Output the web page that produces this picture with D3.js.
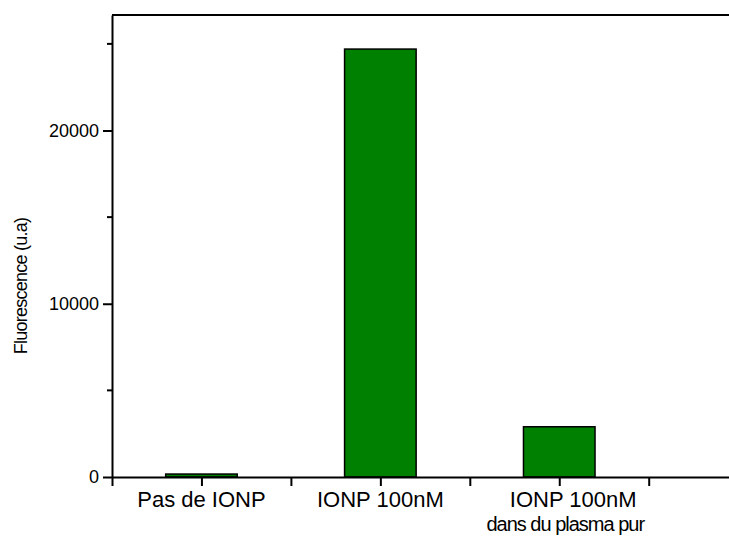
<!DOCTYPE html>
<html>
<head>
<meta charset="utf-8">
<script src="https://cdn.jsdelivr.net/npm/d3@7"></script>
<style>
  body { margin: 0; background: #fff; }
  text { font-family: "Liberation Sans", Arial, sans-serif; fill: #000; }
</style>
</head>
<body>
<div id="chart-area"></div>
<script>
const categories = [
  ["Pas de IONP"],
  ["IONP 100nM"],
  ["IONP 100nM", "dans du plasma pur"]
]
const values = [170, 24700, 2900]
const majorTicks = [0, 10000, 20000]
const minorTicks = [5000, 15000, 25000]

const W = 729, H = 539
const MARGIN = { LEFT: 112, TOP: 15, BOTTOM: 62 }
const HEIGHT = H - MARGIN.TOP - MARGIN.BOTTOM

const svg = d3.select("#chart-area").append("svg")
  .attr("width", W)
  .attr("height", H)

const g = svg.append("g")
  .attr("transform", `translate(${MARGIN.LEFT}, ${MARGIN.TOP})`)

// Scales: categories at positions 1,2,3
const x = d3.scaleLinear()
  .domain([0.5, 3.96])
  .range([0, 619])

const y = d3.scaleLinear()
  .domain([0, 26667])
  .range([HEIGHT, 0])

const barW = x(1.2) - x(0.8)

// Bars
g.selectAll(".bar")
  .data(values)
  .enter().append("rect")
  .attr("class", "bar")
  .attr("x", (d, i) => x(i + 1) - barW / 2)
  .attr("width", barW)
  .attr("y", d => y(d))
  .attr("height", d => y(0) - y(d))
  .attr("fill", "#008000")
  .attr("stroke", "#000")
  .attr("stroke-width", 1.5)

// Top frame line
g.append("line")
  .attr("x1", 0).attr("x2", W)
  .attr("y1", 0).attr("y2", 0)
  .attr("stroke", "#000").attr("stroke-width", 2)

// X axis
const xAxis = g.append("g")
  .attr("transform", `translate(0, ${HEIGHT})`)
  .call(d3.axisBottom(x)
    .tickValues([0.5, 1, 1.5, 2, 2.5, 3, 3.5])
    .tickSize(9)
    .tickSizeOuter(0)
    .tickFormat(""))
xAxis.select(".domain").attr("stroke-width", 2)
xAxis.selectAll(".tick line").attr("stroke-width", 2)

// category labels (multi-line label sits a bit right of its tick, as in the original)
const lab = g.selectAll(".cat")
  .data(categories)
  .enter().append("text")
  .attr("class", "cat")
  .attr("text-anchor", "middle")
  .attr("x", (d, i) => x(i + 1))
  .attr("y", HEIGHT + 30)
lab.selectAll("tspan")
  .data(d => d.map((t, j) => ({ t, j, n: d.length })))
  .enter().append("tspan")
  .attr("x", function(d) {
    const cx = +d3.select(this.parentNode).attr("x")
    if (d.n === 1) return cx
    return cx + (d.j === 0 ? 14 : 6)
  })
  .attr("dy", d => d.j === 0 ? 0 : 24)
  .attr("font-size", d => d.j === 0 ? "22px" : "20px")
  .attr("letter-spacing", d => d.j === 0 ? null : "-1px")
  .text(d => d.t)

// Y axis
const yAxis = g.append("g")
  .call(d3.axisLeft(y)
    .tickValues(majorTicks)
    .tickSize(9)
    .tickSizeOuter(0)
    .tickPadding(4)
    .tickFormat(d3.format("d")))
yAxis.select(".domain").attr("stroke-width", 2)
yAxis.selectAll(".tick line").attr("stroke-width", 2)
yAxis.selectAll(".tick text").attr("font-size", "18px")
  .style("font-family", "'Liberation Sans', Arial, sans-serif")

g.append("g")
  .selectAll("line")
  .data(minorTicks)
  .enter().append("line")
  .attr("x1", -5).attr("x2", 0)
  .attr("y1", d => y(d)).attr("y2", d => y(d))
  .attr("stroke", "#000").attr("stroke-width", 2)

// Y label
g.append("text")
  .attr("transform", "rotate(-90)")
  .attr("x", -271)
  .attr("y", -85)
  .attr("text-anchor", "middle")
  .attr("font-size", "18px")
  .attr("letter-spacing", "-0.75px")
  .text("Fluorescence (u.a)")
</script>
</body>
</html>
